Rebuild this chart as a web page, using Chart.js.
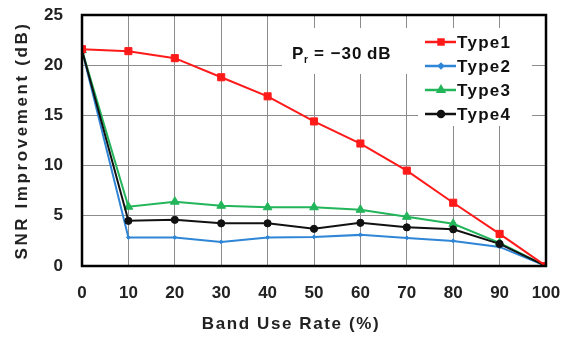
<!DOCTYPE html>
<html>
<head>
<meta charset="utf-8">
<script src="https://cdn.jsdelivr.net/npm/chart.js@4"></script>
<style>
	body { margin: 0; background: #fff; }
	#wrap { width: 563px; height: 342px; }
</style>
</head>
<body>
<div id="wrap"><canvas id="CanvasSnr" width="563" height="342"></canvas></div>
<script>
// data
var bandUseRate = [0, 10, 20, 30, 40, 50, 60, 70, 80, 90, 100];
var type1 = [21.6, 21.4, 20.7, 18.8, 16.9, 14.4, 12.2, 9.5, 6.3, 3.2, 0];
var type2 = [21.5, 2.85, 2.85, 2.4, 2.85, 2.9, 3.1, 2.8, 2.5, 1.9, 0];
var type3 = [21.5, 5.9, 6.4, 6.0, 5.85, 5.85, 5.6, 4.9, 4.2, 2.3, 0];
var type4 = [21.5, 4.5, 4.6, 4.25, 4.25, 3.7, 4.3, 3.85, 3.65, 2.2, 0];
var seriesNames = ['Type1', 'Type2', 'Type3', 'Type4'];
var yTicks = [0, 5, 10, 15, 20, 25];
var xTitle = 'Band Use Rate (%)';
var yTitle = 'SNR Improvement (dB)';

var fontFamily = '"Liberation Sans", Arial, sans-serif';

function toPoints(values) {
	var pts = [];
	for (var i = 0; i < bandUseRate.length; i++) {
		pts.push({ x: bandUseRate[i], y: values[i] });
	}
	return pts;
}

var datasets = [
	{ label: seriesNames[0], data: toPoints(type1), borderColor: '#ff1a1a', backgroundColor: '#ff1a1a', pointStyle: 'rect', pointRadius: 5, legendRadius: 3.5 },
	{ label: seriesNames[1], data: toPoints(type2), borderColor: '#2f86d6', backgroundColor: '#2f86d6', pointStyle: 'rectRot', pointRadius: 2, legendRadius: 2 },
	{ label: seriesNames[2], data: toPoints(type3), borderColor: '#22b55a', backgroundColor: '#22b55a', pointStyle: 'triangle', pointRadius: 5, legendRadius: 3.5 },
	{ label: seriesNames[3], data: toPoints(type4), borderColor: '#111111', backgroundColor: '#111111', pointStyle: 'circle', pointRadius: 3.6, legendRadius: 3 }
];
datasets.forEach(function (ds) {
	ds.borderWidth = 2;
	ds.pointBorderWidth = 1;
	ds.pointHoverRadius = ds.pointRadius;
	ds.tension = 0;
});
// draw Type1 on top
datasets[0].order = 0;
datasets[1].order = 3;
datasets[2].order = 2;
datasets[3].order = 1;

function spacedText(ctx, text, x, y, spacing) {
	ctx.letterSpacing = spacing + 'px';
	ctx.fillText(text, x, y);
	ctx.letterSpacing = '0px';
}

// white boxes for legend / annotation, drawn over the grid
var boxesPlugin = {
	id: 'boxes',
	beforeDatasetsDraw: function (chart) {
		var ctx = chart.ctx;
		ctx.save();
		ctx.fillStyle = '#fff';
		ctx.fillRect(282, 28, 136, 46);
		ctx.fillRect(418, 28, 114, 98);
		ctx.restore();
	},
	afterDatasetsDraw: function (chart) {
		var ctx = chart.ctx;
		var area = chart.chartArea;
		ctx.save();
		// plot frame
		ctx.strokeStyle = '#000';
		ctx.lineWidth = 2.5;
		ctx.strokeRect(area.left, area.top, area.right - area.left, area.bottom - area.top);

		// annotation P_r = -30 dB
		ctx.fillStyle = '#111';
		ctx.textBaseline = 'alphabetic';
		ctx.font = 'bold 17px ' + fontFamily;
		ctx.fillText('P', 292, 59);
		ctx.font = 'bold 10px ' + fontFamily;
		ctx.fillText('r', 304, 63);
		ctx.font = 'bold 17px ' + fontFamily;
		spacedText(ctx, '= \u221230\u2009dB', 314, 59, 1);

		// legend
		var rowY = [42, 66, 90, 114];
		chart.data.datasets.forEach(function (ds, i) {
			var y = rowY[i];
			ctx.strokeStyle = ds.borderColor;
			ctx.lineWidth = 2.5;
			ctx.beginPath();
			ctx.moveTo(425, y);
			ctx.lineTo(456, y);
			ctx.stroke();
			ctx.fillStyle = ds.borderColor;
			Chart.helpers.drawPoint(ctx, { pointStyle: ds.pointStyle, radius: ds.legendRadius, borderWidth: 1 }, 441, y);
			ctx.fill();
			ctx.fillStyle = '#111';
			ctx.font = 'bold 17px ' + fontFamily;
			ctx.textBaseline = 'middle';
			spacedText(ctx, ds.label, 457, y + 1, 1.3);
		});

		// axis titles
		ctx.fillStyle = '#222';
		ctx.font = 'bold 17px ' + fontFamily;
		ctx.textAlign = 'center';
		ctx.textBaseline = 'middle';
		spacedText(ctx, xTitle, 291, 324, 1.6);
		ctx.translate(22, (area.top + area.bottom) / 2);
		ctx.rotate(-Math.PI / 2);
		spacedText(ctx, yTitle, 0, 0, 2.6);
		ctx.restore();
	}
};

const context = document.getElementById('CanvasSnr');
const myChart = new Chart(context, {
	type: 'line',
	data: { datasets: datasets },
	options: {
		responsive: false,
		animation: false,
		layout: { padding: { top: 15, right: 17, left: 0, bottom: 7 } },
		plugins: {
			legend: { display: false },
			tooltip: { enabled: false }
		},
		scales: {
			x: {
				type: 'linear',
				min: 0,
				max: 100,
				ticks: {
					stepSize: 10,
					color: '#222',
					padding: 17,
					font: { family: fontFamily, size: 17, weight: 'bold' }
				},
				grid: { color: '#8c8c8c', lineWidth: 1, drawTicks: false },
				border: { display: false },
				title: { display: false },
				afterFit: function (scale) {
					scale.height = 69;
					scale.paddingLeft = 0;
					scale.paddingRight = 0;
				}
			},
			y: {
				min: 0,
				max: 25,
				afterBuildTicks: function (scale) {
					scale.ticks = yTicks.map(function (v) { return { value: v }; });
				},
				ticks: {
					color: '#222',
					padding: 19,
					font: { family: fontFamily, size: 17, weight: 'bold' }
				},
				grid: { color: '#8c8c8c', lineWidth: 1, drawTicks: false },
				border: { display: false },
				title: { display: false },
				afterFit: function (scale) {
					scale.width = 82;
					scale.paddingTop = 0;
					scale.paddingBottom = 0;
				}
			}
		}
	},
	plugins: [boxesPlugin]
});
</script>
</body>
</html>
